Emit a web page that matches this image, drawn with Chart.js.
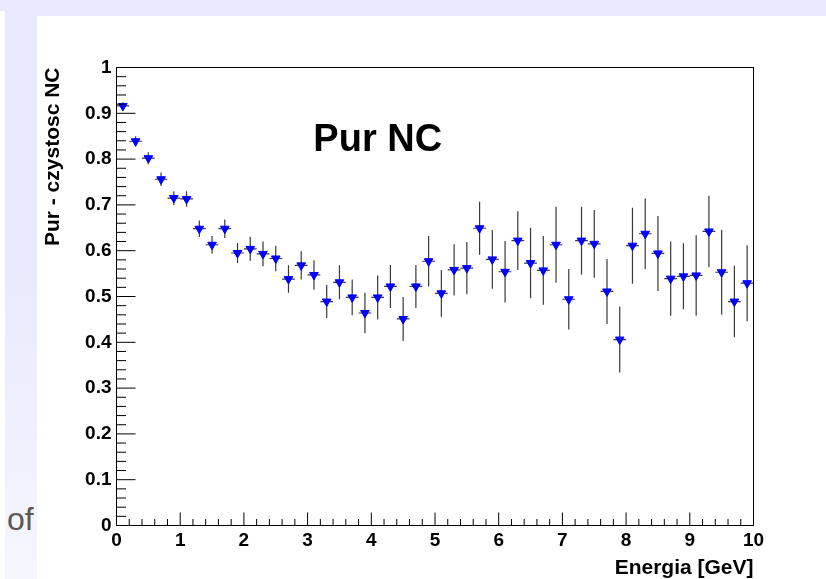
<!DOCTYPE html>
<html>
<head>
<meta charset="utf-8">
<script src="https://cdn.jsdelivr.net/npm/chart.js@4/dist/chart.umd.min.js"></script>
<style>
  html, body { margin: 0; padding: 0; background: #fff; }
  #wrap { position: relative; width: 826px; height: 579px; overflow: hidden; background: #fff; }
  .band { position: absolute; background: #e8e9fc; }
  #strip { position: absolute; left: 5px; top: 0; width: 31.5px; height: 579px;
           background: linear-gradient(to bottom, #e8e9fc 0%, #e8e9fc 45%, #f6f6fe 100%); }
  #of { position: absolute; left: 7px; top: 501px; line-height: 32px;
        font: 32px 'Liberation Sans', Arial, sans-serif; color: #5c5752; }
  canvas { position: absolute; left: 0; top: 0; }
</style>
</head>
<body>
<div id="wrap">
  <div class="band" style="left:0;top:0;width:826px;height:10.5px"></div>
  <div class="band" style="left:5px;top:0;width:821px;height:16px"></div>
  <div id="strip"></div>
  <div id="of">of</div>
  <canvas id="c" width="826" height="579"></canvas>
</div>
<script>
// Bin centres of the energy histogram [GeV]
const energy = [0.1, 0.3, 0.5, 0.7, 0.9, 1.1, 1.3, 1.5, 1.7, 1.9,
                2.1, 2.3, 2.5, 2.7, 2.9, 3.1, 3.3, 3.5, 3.7, 3.9,
                4.1, 4.3, 4.5, 4.7, 4.9, 5.1, 5.3, 5.5, 5.7, 5.9,
                6.1, 6.3, 6.5, 6.7, 6.9, 7.1, 7.3, 7.5, 7.7, 7.9,
                8.1, 8.3, 8.5, 8.7, 8.9, 9.1, 9.3, 9.5, 9.7, 9.9];
// Half bin width (horizontal error bar) [GeV]
const energyErr = [0.1];
// NC purity per bin
const purity = [0.916, 0.839, 0.802, 0.756, 0.715, 0.713, 0.648, 0.613, 0.648, 0.595,
                0.604, 0.593, 0.583, 0.538, 0.568, 0.547, 0.489, 0.531, 0.498, 0.464,
                0.498, 0.522, 0.451, 0.522, 0.577, 0.507, 0.558, 0.562, 0.649, 0.581,
                0.554, 0.622, 0.573, 0.557, 0.613, 0.494, 0.622, 0.615, 0.511, 0.406,
                0.611, 0.637, 0.594, 0.539, 0.544, 0.546, 0.642, 0.553, 0.489, 0.529];
// Statistical uncertainty of the purity
const purityErr = [0.008, 0.011, 0.013, 0.015, 0.015, 0.017, 0.018, 0.019, 0.020, 0.022,
                   0.026, 0.027, 0.028, 0.030, 0.031, 0.032, 0.036, 0.037, 0.039, 0.044,
                   0.048, 0.047, 0.048, 0.047, 0.055, 0.051, 0.056, 0.057, 0.058, 0.064,
                   0.067, 0.064, 0.077, 0.075, 0.083, 0.066, 0.074, 0.074, 0.071, 0.072,
                   0.083, 0.077, 0.082, 0.081, 0.072, 0.088, 0.078, 0.093, 0.078, 0.083];

const xTitle = 'Energia [GeV]';
const yTitle = 'Pur - czystosc NC';
const plotLabel = 'Pur NC';

const FONT = "'Liberation Sans', Arial, Helvetica, sans-serif";
Chart.defaults.font.family = FONT;
Chart.defaults.color = '#000';

// Error bars, inward tick marks, frame and the plot label
const rootStyle = {
  id: 'rootStyle',
  beforeDatasetsDraw(chart) {
    const { ctx, scales: { x, y } } = chart;
    ctx.save();
    ctx.strokeStyle = '#3a3a3a';
    ctx.lineWidth = 1.2;
    energy.forEach((e, i) => {
      const px = x.getPixelForValue(e);
      const py = y.getPixelForValue(purity[i]);
      ctx.beginPath();
      ctx.moveTo(x.getPixelForValue(e - energyErr[0]), py);
      ctx.lineTo(x.getPixelForValue(e + energyErr[0]), py);
      ctx.moveTo(px, y.getPixelForValue(purity[i] + purityErr[i]));
      ctx.lineTo(px, y.getPixelForValue(purity[i] - purityErr[i]));
      ctx.stroke();
    });
    ctx.restore();
  },
  afterDraw(chart) {
    const { ctx, chartArea: a, scales: { x, y } } = chart;
    ctx.save();
    ctx.strokeStyle = '#000';
    ctx.lineWidth = 1;
    ctx.beginPath();
    // y-axis ticks every 0.02, major every 0.1
    for (let i = 0; i <= 50; i++) {
      const py = y.getPixelForValue(i / 50);
      const len = i % 5 === 0 ? 19 : 9.5;
      ctx.moveTo(a.left, py);
      ctx.lineTo(a.left + len, py);
    }
    // x-axis ticks every 0.2, major every 1
    for (let i = 0; i <= 50; i++) {
      const px = x.getPixelForValue(i / 5);
      const len = i % 5 === 0 ? 13 : 6.5;
      ctx.moveTo(px, a.bottom);
      ctx.lineTo(px, a.bottom - len);
    }
    ctx.stroke();
    ctx.strokeRect(a.left, a.top, a.right - a.left, a.bottom - a.top);

    ctx.fillStyle = '#000';
    ctx.font = 'bold 38px ' + FONT;
    ctx.textAlign = 'left';
    ctx.textBaseline = 'alphabetic';
    ctx.fillText(plotLabel, a.left + 0.309 * (a.right - a.left), a.top + 83);
    ctx.restore();
  }
};

new Chart(document.getElementById('c'), {
  type: 'scatter',
  data: {
    datasets: [{
      data: energy.map((e, i) => ({ x: e, y: purity[i] })),
      pointStyle: 'triangle',
      rotation: 180,
      pointRadius: 5,
      pointHoverRadius: 5,
      backgroundColor: '#0000ff',
      borderColor: '#0000ff',
      borderWidth: 1,
      showLine: false
    }]
  },
  options: {
    responsive: false,
    animation: false,
    devicePixelRatio: 1,
    events: [],
    layout: { padding: { left: 0, top: 67.5, right: 72.5, bottom: 0 } },
    plugins: { legend: { display: false }, tooltip: { enabled: false } },
    scales: {
      x: {
        type: 'linear',
        min: 0, max: 10,
        grid: { display: false, drawTicks: false },
        border: { display: false },
        ticks: {
          stepSize: 1, autoSkip: false, maxRotation: 0, padding: 4,
          font: { size: 19, weight: 'bold' }, color: '#000'
        },
        title: {
          display: true, text: xTitle, align: 'end', color: '#000',
          font: { size: 21, weight: 'bold', lineHeight: 1 },
          padding: { top: 0, bottom: 0 }
        },
        afterFit(s) { s.height = 53.5; }
      },
      y: {
        type: 'linear',
        min: 0, max: 1,
        grid: { display: false, drawTicks: false },
        border: { display: false },
        ticks: {
          stepSize: 0.1, padding: 5,
          font: { size: 19, weight: 'bold' }, color: '#000',
          callback: v => String(+v.toFixed(1))
        },
        title: {
          display: true, text: yTitle, align: 'end', color: '#000',
          font: { size: 21, weight: 'bold', lineHeight: 1 },
          padding: { top: 43, bottom: 0 }
        },
        afterFit(s) { s.width = 116.5; }
      }
    }
  },
  plugins: [rootStyle]
});
</script>
</body>
</html>
